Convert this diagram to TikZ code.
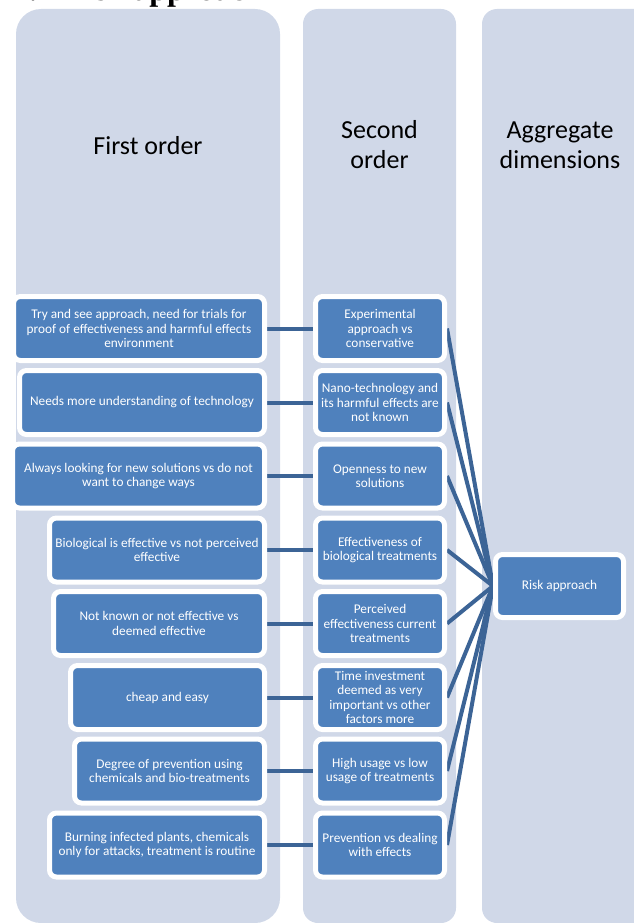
\documentclass[tikz,border=0pt]{standalone}
\usepackage{fontspec}
\setmainfont{Carlito}
\newfontfamily\titlefont{Liberation Serif}
\pgfdeclarelayer{back}
\pgfdeclarelayer{mid}
\pgfsetlayers{back,mid,main}
\definecolor{colbg}{RGB}{208,216,232}
\definecolor{boxblue}{RGB}{79,129,189}
\definecolor{linkblue}{RGB}{60,100,150}
\begin{document}
\begin{tikzpicture}[x=1pt,y=-1pt,
  box/.style={fill=boxblue, draw=white, line width=5pt, rounded corners=7pt,
    text=white, align=center, font=\fontsize{13.3}{14.5}\selectfont,
    inner sep=0pt, minimum height=64pt},
  firstbox/.style={box},
  secondbox/.style={box, minimum width=129pt},
  link/.style={draw=linkblue, line width=4pt},
  colbox/.style={fill=colbg},
  header/.style={font=\fontsize{26}{30}\selectfont, align=center, text=black, anchor=base},
  titletext/.style={font=\titlefont\bfseries\fontsize{32}{36}\selectfont, anchor=base west, inner sep=0pt}]
\useasboundingbox (0,0) rectangle (634,923);
\clip (0,0) rectangle (634,923);
\begin{pgfonlayer}{back}
  \fill[colbox, rounded corners=25pt] (16,9) rectangle (280,923);
  \fill[colbox, rounded corners=15pt] (303,9) rectangle (456,923);
  \fill[colbox, rounded corners=15pt] (482,9) rectangle (660,923);
\end{pgfonlayer}
\node[titletext] (t1) at (13,0.5) {4.4};
\node[titletext] (t2) at (63,0.5) {Risk approach};
\node[header] (hf) at (148,154) {First order};
\node[header] (hs) at (379.5,168) {Second\\order};
\node[header] (ha) at (560,168) {Aggregate\\dimensions};
% first order
\node[firstbox, minimum width=251pt] (f1) at (139,328.5) {Try and see approach, need for trials for\\proof of effectiveness and harmful effects\\environment};
\node[firstbox, minimum width=245pt] (f2) at (142,402.5) {Needs more understanding of technology};
\node[firstbox, minimum width=252pt] (f3) at (138.5,476) {Always looking for new solutions vs do not\\want to change ways};
\node[firstbox, minimum width=215pt] (f4) at (157,550) {Biological is effective vs not perceived\\effective};
\node[firstbox, minimum width=211pt] (f5) at (159,623.5) {Not known or not effective vs\\deemed effective};
\node[firstbox, minimum width=194pt] (f6) at (167.5,697.5) {cheap and easy};
\node[firstbox, minimum width=190pt] (f7) at (169.5,771) {Degree of prevention using\\chemicals and bio-treatments};
\node[firstbox, minimum width=215pt] (f8) at (157,845) {Burning infected plants, chemicals\\only for attacks, treatment is routine};
% second order
\node[secondbox] (s1) at (380,328.5) {Experimental\\approach vs\\conservative};
\node[secondbox] (s2) at (380,402.5) {Nano-technology and\\its harmful effects are\\not known};
\node[secondbox] (s3) at (380,476) {Openness to new\\solutions};
\node[secondbox] (s4) at (380,550) {Effectiveness of\\biological treatments};
\node[secondbox] (s5) at (380,623.5) {Perceived\\effectiveness current\\treatments};
\node[secondbox] (s6) at (380,697.5) {Time investment\\deemed as very\\important vs other\\factors more};
\node[secondbox] (s7) at (380,771) {High usage vs low\\usage of treatments};
\node[secondbox] (s8) at (380,845) {Prevention vs dealing\\with effects};
% aggregate
\node[box, minimum width=128pt, minimum height=63pt] (risk) at (559.5,586) {Risk approach};
\begin{pgfonlayer}{mid}
  \foreach \i in {1,...,8} {
    \draw[link] (f\i.east) -- (s\i.west);
    \draw[link] (s\i.east) -- (risk.west);
  }
\end{pgfonlayer}
\end{tikzpicture}
\end{document}
